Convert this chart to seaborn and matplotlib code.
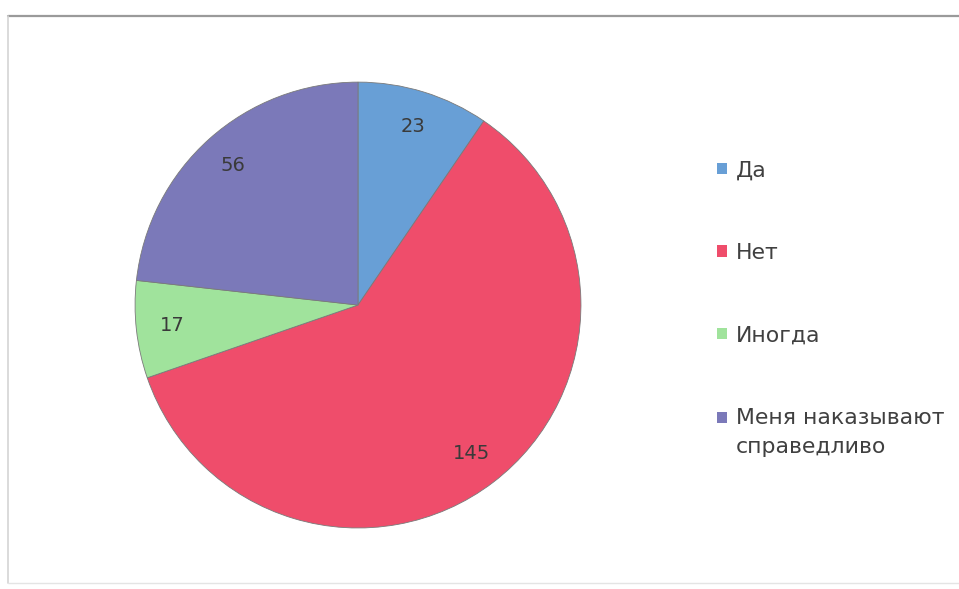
import matplotlib
matplotlib.use('Agg')
import matplotlib.pyplot as plt
from matplotlib.patches import Patch
from matplotlib.lines import Line2D
import seaborn as sns

# Data
categories = ['Да', 'Нет', 'Иногда', 'Меня наказывают\nсправедливо']
values = [23, 145, 17, 56]
colors = ['#689fd6', '#ef4d6b', '#a0e39c', '#7b79b9']

sns.set_theme(style='white')
plt.rcParams['font.family'] = ['DejaVu Sans']

fig = plt.figure(figsize=(9.59, 5.89), dpi=100)
fig.patch.set_facecolor('white')

# scanned-frame edges: dark top, faint left and bottom
fig.add_artist(Line2D([0.008, 1.0], [0.972, 0.972], transform=fig.transFigure,
                      color='#9a9a9a', linewidth=1.6))
fig.add_artist(Line2D([0.008, 0.008], [0.01, 0.972], transform=fig.transFigure,
                      color='#d4d4d4', linewidth=1.2))
fig.add_artist(Line2D([0.008, 1.0], [0.01, 0.01], transform=fig.transFigure,
                      color='#e4e4e4', linewidth=1.0))

ax = fig.add_axes([0.1408, 0.1036, 0.465, 0.757])
wedges, texts, autotexts = ax.pie(
    values, colors=sns.color_palette(colors), startangle=90, counterclock=False,
    autopct=lambda p: f'{round(p * sum(values) / 100):d}', pctdistance=0.84,
    wedgeprops=dict(linewidth=0.6, edgecolor='#7a7a7a'),
    textprops=dict(fontsize=14, color='#3a3a3a'))
ax.set_xlim(-1, 1)
ax.set_ylim(-1, 1)
ax.set_aspect('equal')

# Legend
handles = [Patch(facecolor=c, edgecolor='none') for c in colors]
leg = fig.legend(handles, categories, loc='upper left', bbox_to_anchor=(0.748, 0.728),
                 frameon=False, fontsize=15.8, labelspacing=2.85, handlelength=0.42,
                 handleheight=0.42, handletextpad=0.42, borderpad=0, borderaxespad=0,
                 labelcolor='#404040')
leg.get_texts()[3].set_linespacing(1.6)
# put the last marker beside the first line of its two-line label
last = leg.legend_handles[3]
last.set_y(last.get_y() + 11)

plt.savefig('out.png', dpi=100)
plt.close()
